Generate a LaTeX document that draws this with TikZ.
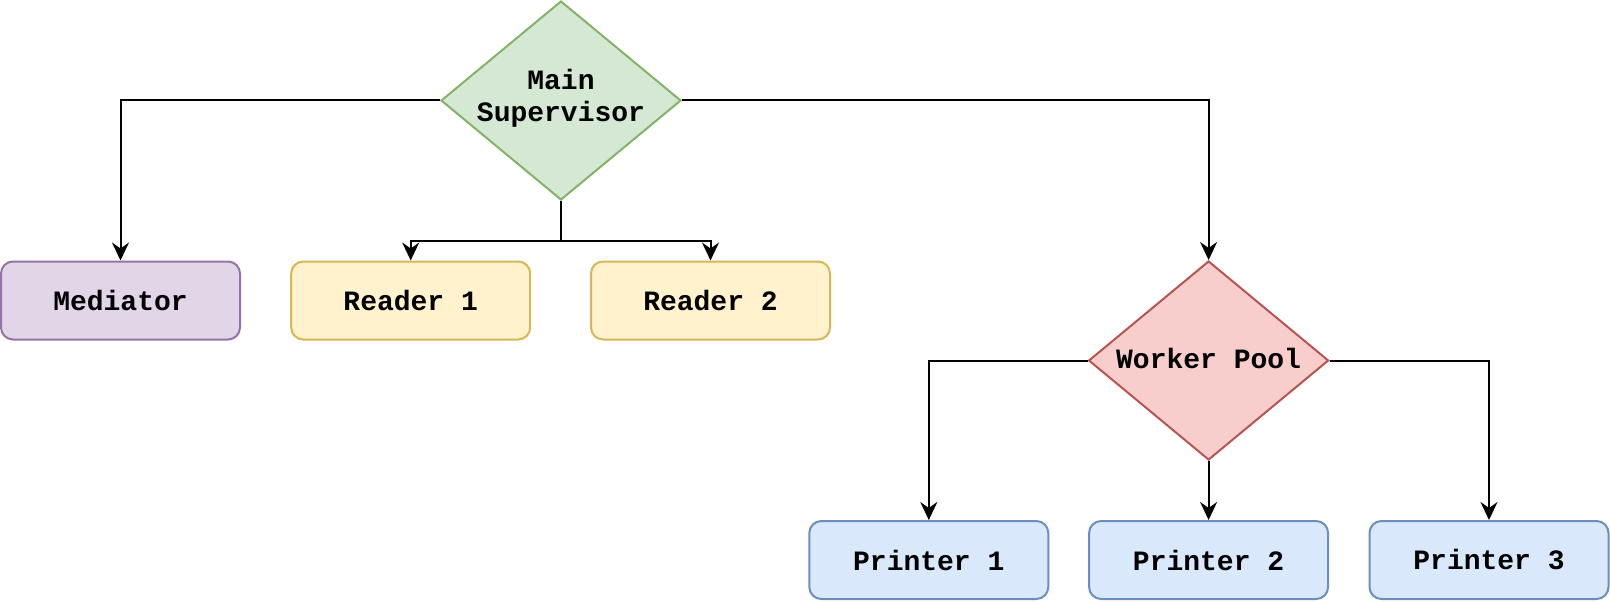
\documentclass[tikz,border=0pt]{standalone}
\usepackage{fontspec}
\setmonofont{Liberation Mono}
\usetikzlibrary{shapes.geometric,arrows.meta}
\definecolor{purF}{HTML}{E1D5E7}\definecolor{purD}{HTML}{9673A6}
\definecolor{yelF}{HTML}{FFF2CC}\definecolor{yelD}{HTML}{D6B656}
\definecolor{grnF}{HTML}{D5E8D4}\definecolor{grnD}{HTML}{82B366}
\definecolor{redF}{HTML}{F8CECC}\definecolor{redD}{HTML}{B85450}
\definecolor{bluF}{HTML}{DAE8FC}\definecolor{bluD}{HTML}{6C8EBF}
\tikzset{
  lbl/.style={font=\fontsize{28}{32}\selectfont\ttfamily\bfseries, align=center, inner sep=0pt},
  box/.style={lbl, draw, line width=2pt, rounded corners=12pt, minimum width=239pt, minimum height=78pt},
  dia/.style={diamond, draw, line width=2pt, inner sep=0pt, minimum width=240pt, minimum height=199pt},
  arr/.style={draw, line width=2pt, -{Stealth[length=18pt, width=17pt, inset=6pt]}},
  ln/.style={draw, line width=2pt}
}
\begin{document}
\begin{tikzpicture}[x=1pt, y=-1pt]
\useasboundingbox (0,0) rectangle (1610,602);
% nodes
\node[dia, fill=grnF, draw=grnD] (ms) at (561,100.5) {};
\node[lbl] (mst) at (561,98) {Main\\Supervisor};
\node[box, fill=purF, draw=purD] (med) at (120.5,300.5) {Mediator};
\node[box, fill=yelF, draw=yelD] (r1) at (410.7,300.5) {Reader 1};
\node[box, fill=yelF, draw=yelD] (r2) at (710.5,300.5) {Reader 2};
\node[dia, fill=redF, draw=redD] (wp) at (1208.6,360.5) {};
\node[lbl] (wpt) at (1208.6,358) {Worker Pool};
\node[box, fill=bluF, draw=bluD] (p1) at (928.8,560) {Printer 1};
\node[box, fill=bluF, draw=bluD] (p2) at (1208.6,560) {Printer 2};
\node[box, fill=bluF, draw=bluD] (p3) at (1489,560) {Printer 3};
% connectors
\coordinate (j1) at (561,241.3);
\draw[arr] (ms.west) -| (med.north);
\draw[ln] (ms.south) -- (j1);
\draw[arr] (j1) -| (r1.north);
\draw[arr] (j1) -| (r2.north);
\draw[arr] (ms.east) -| (wp.north);
\draw[arr] (wp.west) -| (p1.north);
\draw[arr] (wp.south) -- (p2.north);
\draw[arr] (wp.east) -| (p3.north);
\end{tikzpicture}
\end{document}
